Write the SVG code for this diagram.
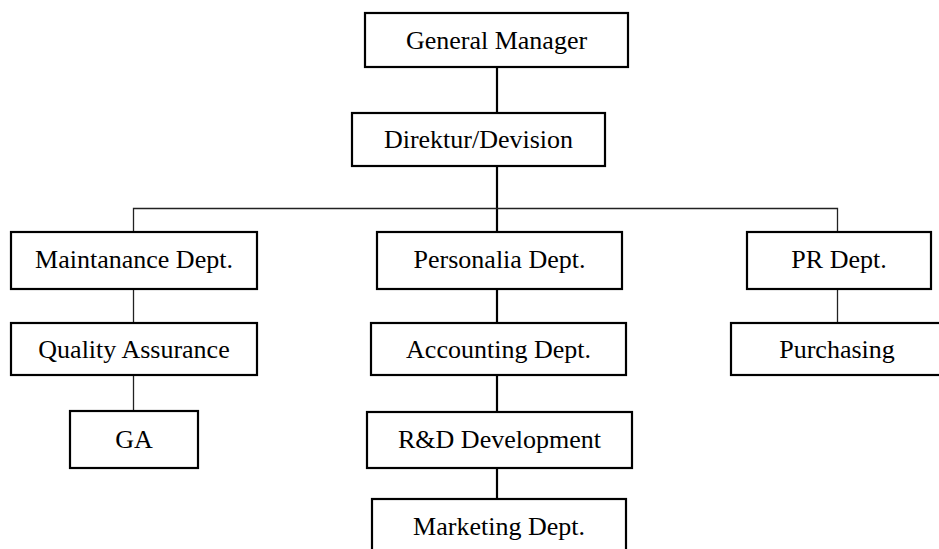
<svg xmlns="http://www.w3.org/2000/svg" width="939" height="549" viewBox="0 0 939 549">
<style>
.box{fill:#fff;stroke:#000;stroke-width:2.2}
.lbl{font-family:"Liberation Serif","Times New Roman",serif;font-size:26px;fill:#000;text-anchor:middle}
.thick{stroke:#000;stroke-width:2.2;fill:none}
.thin{stroke:#222;stroke-width:1.3;fill:none}
</style>
<rect width="939" height="549" fill="#fff"/>
<g id="connectors">
<line class="thick" x1="497" y1="67" x2="497" y2="113"/>
<line class="thick" x1="497" y1="166" x2="497" y2="232"/>
<polyline class="thin" points="133.5,232 133.5,208.5 837.5,208.5 837.5,232"/>
<line class="thin" x1="133.5" y1="289" x2="133.5" y2="323"/>
<line class="thin" x1="133.5" y1="375" x2="133.5" y2="411"/>
<line class="thick" x1="497" y1="289" x2="497" y2="323"/>
<line class="thick" x1="497" y1="375" x2="497" y2="412"/>
<line class="thick" x1="497" y1="468" x2="497" y2="499"/>
<line class="thin" x1="837.5" y1="289" x2="837.5" y2="323"/>
</g>
<g id="gm"><rect class="box" x="365" y="13" width="263" height="54"/><text class="lbl" x="496.5" y="49">General Manager</text></g>
<g id="direktur"><rect class="box" x="352" y="113" width="253" height="53"/><text class="lbl" x="478.5" y="148">Direktur/Devision</text></g>
<g id="maint"><rect class="box" x="11" y="232" width="246" height="57"/><text class="lbl" x="134" y="268">Maintanance Dept.</text></g>
<g id="personalia"><rect class="box" x="377" y="232" width="245" height="57"/><text class="lbl" x="499.5" y="268">Personalia Dept.</text></g>
<g id="pr"><rect class="box" x="747" y="232" width="184" height="57"/><text class="lbl" x="839" y="268">PR Dept.</text></g>
<g id="qa"><rect class="box" x="11" y="323" width="246" height="52"/><text class="lbl" x="134" y="358">Quality Assurance</text></g>
<g id="accounting"><rect class="box" x="371" y="323" width="255" height="52"/><text class="lbl" x="498.5" y="358">Accounting Dept.</text></g>
<g id="purchasing"><rect class="box" x="731" y="323" width="215" height="52"/><text class="lbl" x="837" y="358">Purchasing</text></g>
<g id="ga"><rect class="box" x="70" y="411" width="128" height="57"/><text class="lbl" x="134" y="448">GA</text></g>
<g id="rnd"><rect class="box" x="367" y="412" width="265" height="56"/><text class="lbl" x="499.5" y="448">R&amp;D Development</text></g>
<g id="marketing"><rect class="box" x="372" y="499" width="254" height="57"/><text class="lbl" x="499" y="535">Marketing Dept.</text></g>
</svg>
